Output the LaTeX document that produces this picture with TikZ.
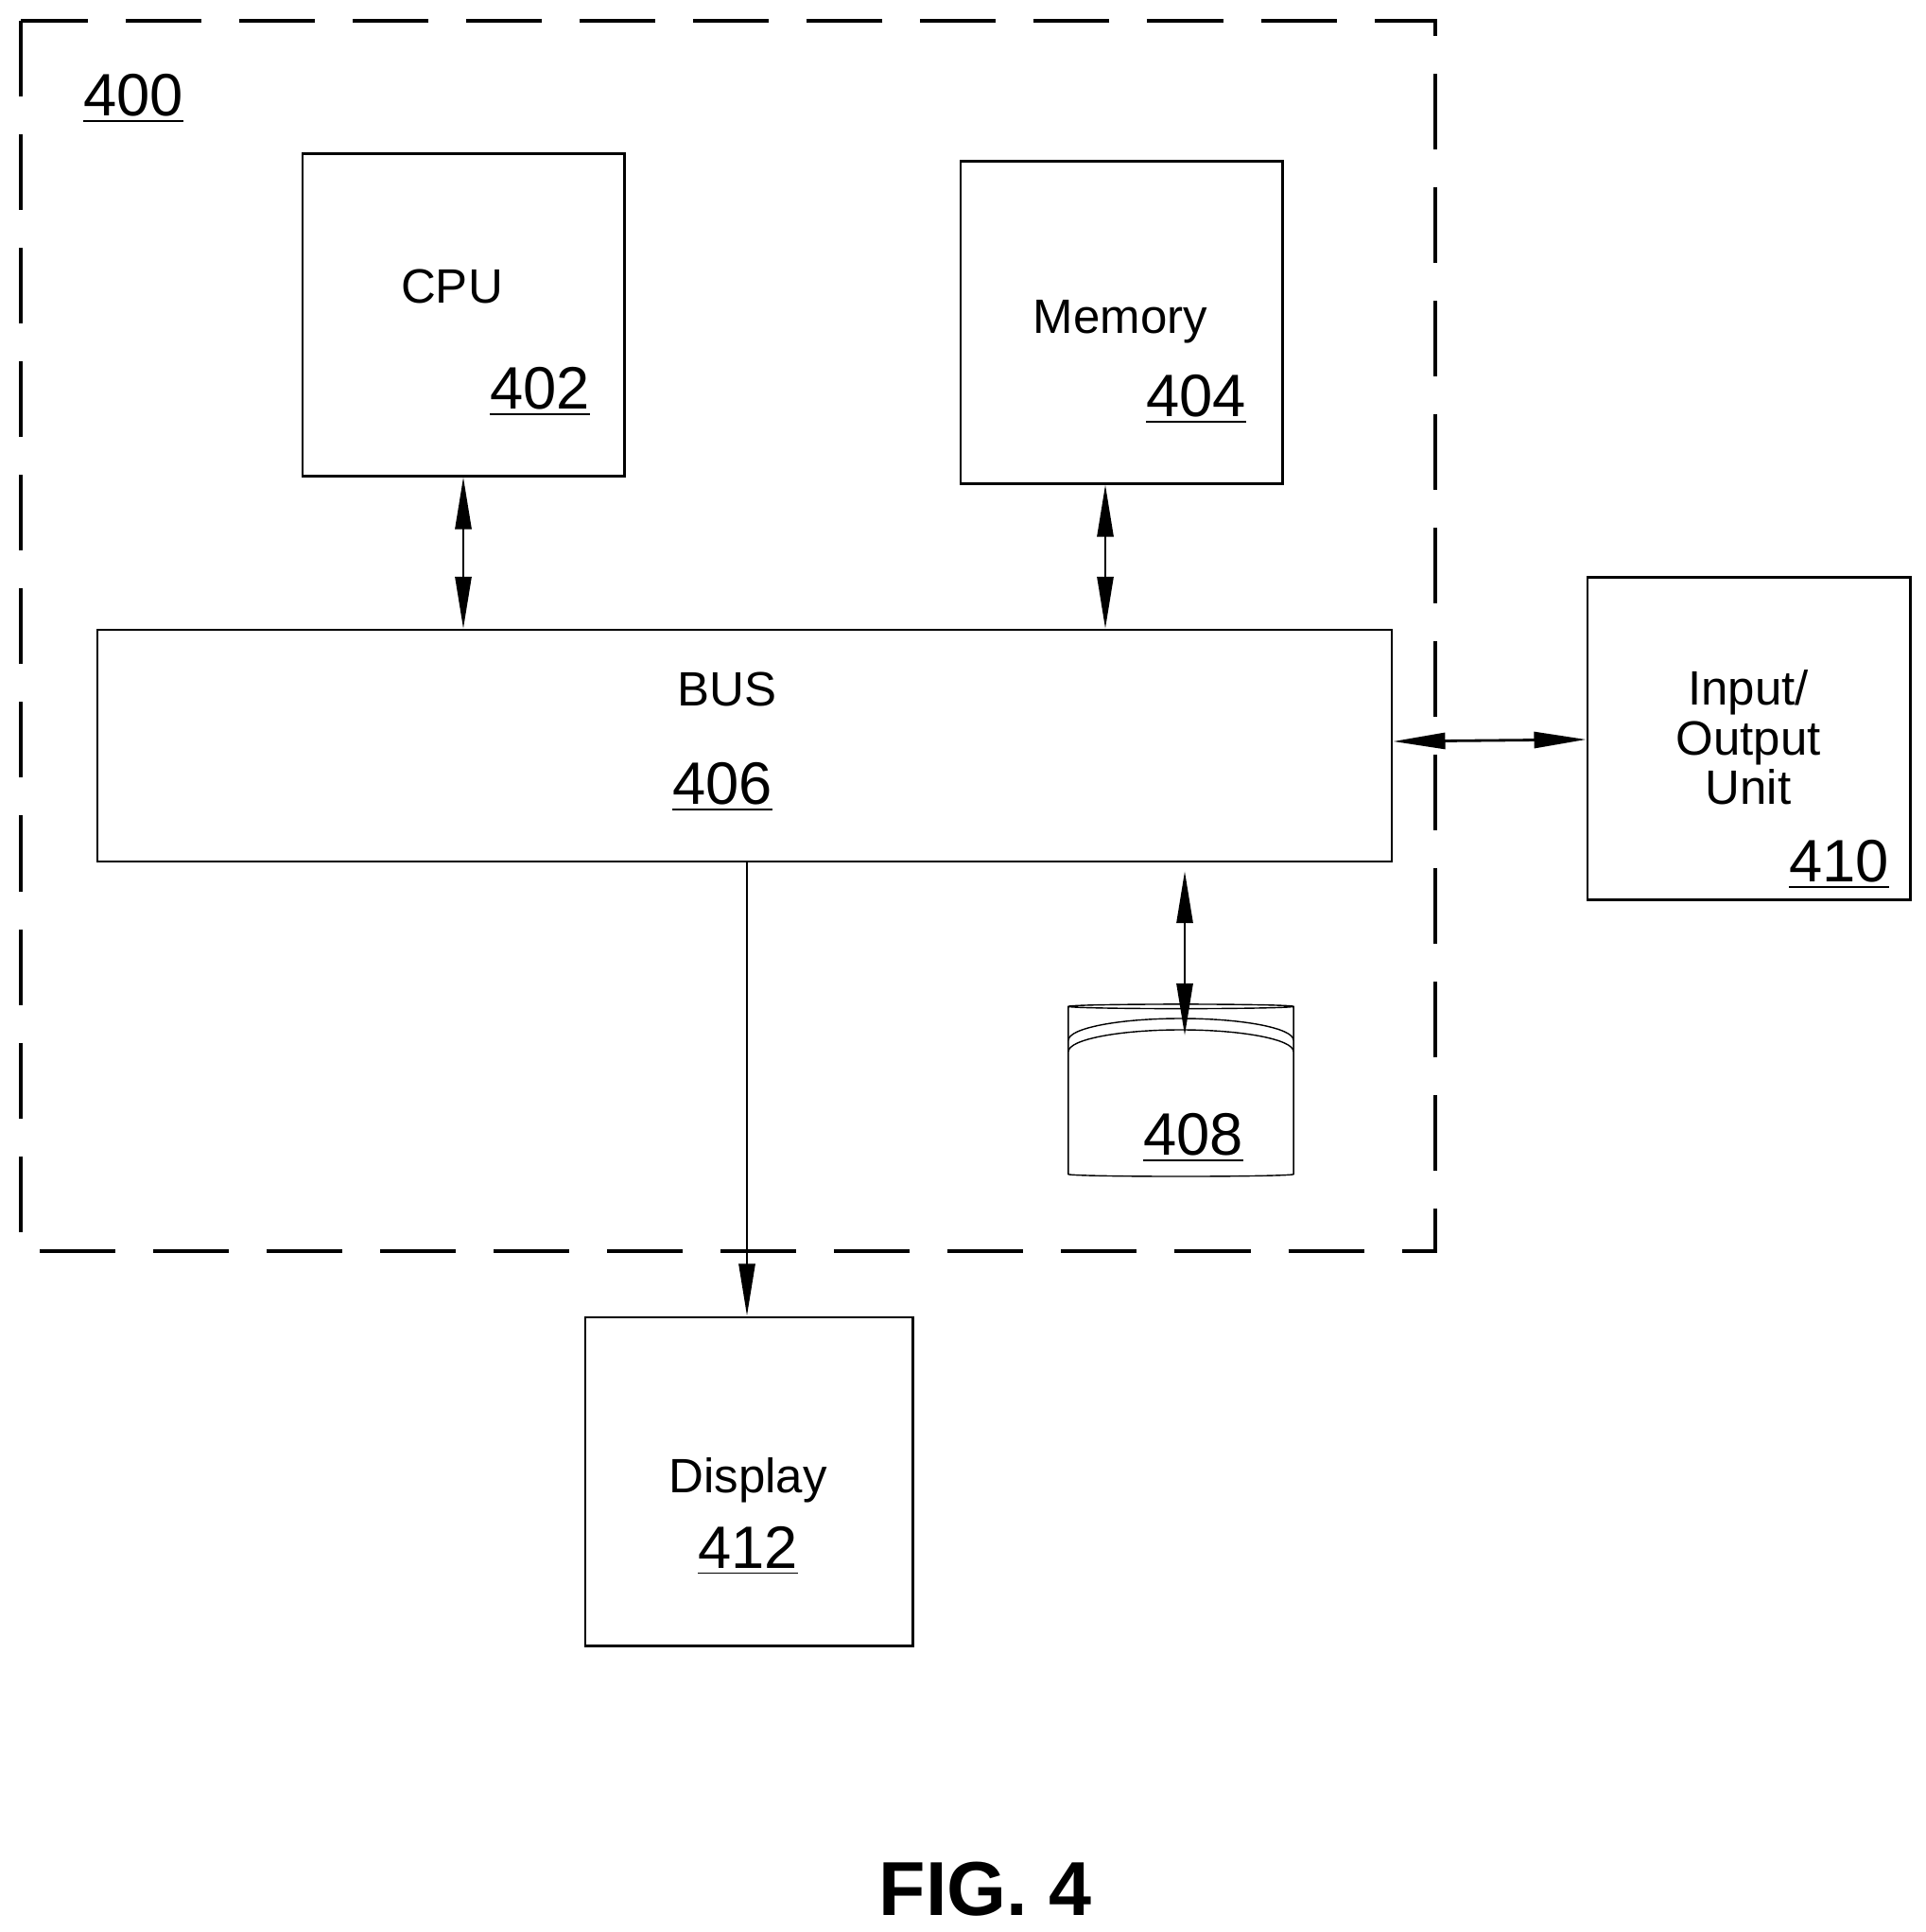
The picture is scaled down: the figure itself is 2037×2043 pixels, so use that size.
\documentclass[tikz,border=0pt]{standalone}
\usepackage{fontspec}
\setmainfont{Liberation Sans}
\usetikzlibrary{arrows.meta,shapes.geometric}
\tikzset{
  blk/.style={draw,thick,inner sep=0pt},
  lbl/.style={font=\fontsize{14.5}{17}\selectfont},
  num/.style={font=\fontsize{18}{21}\selectfont},
  link/.style={thick,{Triangle[length=5.5mm,width=1.7mm]}-{Triangle[length=5.5mm,width=1.7mm]}}
}
\newcommand{\ul}[1]{\underline{#1}}
\begin{document}
\begin{tikzpicture}[x=0.01cm,y=-0.01cm]
      \useasboundingbox (0,0) rectangle (2037,2043);
      \draw[very thick,dash pattern=on 8mm off 4mm] (22,22) rectangle (1518,1323);
      \node[num] (n400) at (141,104) {\ul{400}};

      \node[blk,minimum width=3.4cm,minimum height=3.4cm] (cpu) at (490,333) {};
      \node[lbl] at (478,303) {CPU};
      \node[num] at (571,414) {\ul{402}};

      \node[blk,minimum width=3.4cm,minimum height=3.4cm] (mem) at (1186,341) {};
      \node[lbl] at (1185,340) {Memory};
      \node[num] at (1265,422) {\ul{404}};

      \node[draw,semithick,minimum width=13.69cm,minimum height=2.45cm] (bus) at (787.5,788.5) {};
      \node[lbl] at (769,729) {BUS};
      \node[num] at (764,832) {\ul{406}};

      \node[blk,minimum width=3.41cm,minimum height=3.4cm] (io) at (1849.5,781) {};
      \node[lbl,align=center] at (1849,780) {Input/\\[-2pt]Output\\[-2pt]Unit};
      \node[num] at (1945,914) {\ul{410}};

      \node[blk,minimum width=3.46cm,minimum height=3.47cm] (disp) at (792,1566.5) {};
      \node[lbl] at (791,1565) {Display};
      \node[num] at (791,1640) {\ul{412}};

      % storage
      \node[draw,cylinder,shape border rotate=90,aspect=0.2,minimum width=2.38cm,minimum height=1.82cm] (disk) at (1249,1155) {};
      \draw (1130,1100) arc[start angle=180,end angle=360,x radius=119,y radius=23];
      \draw (1130,1112) arc[start angle=180,end angle=360,x radius=119,y radius=23];
      \node[num] at (1262,1203) {\ul{408}};

      \coordinate (dt) at (1253,1095);
      \draw[link] (cpu.south -| 490,0) -- (bus.north -| 490,0);
      \draw[link] (mem.south -| 1169,0) -- (bus.north -| 1169,0);
      \draw[link] (bus.south -| 1253,0) ++(0,9) -- (dt);
      \draw[link] (bus.east |- 0,784) -- (io.west |- 0,782);
      \draw[thick,-{Triangle[length=5.5mm,width=1.7mm]}] (bus.south -| 790,0) -- (disp.north -| 790,0);

      \node[font=\fontsize{23}{27}\selectfont\bfseries] (fig) at (1042,1998) {FIG. 4};
    \end{tikzpicture}
\end{document}
